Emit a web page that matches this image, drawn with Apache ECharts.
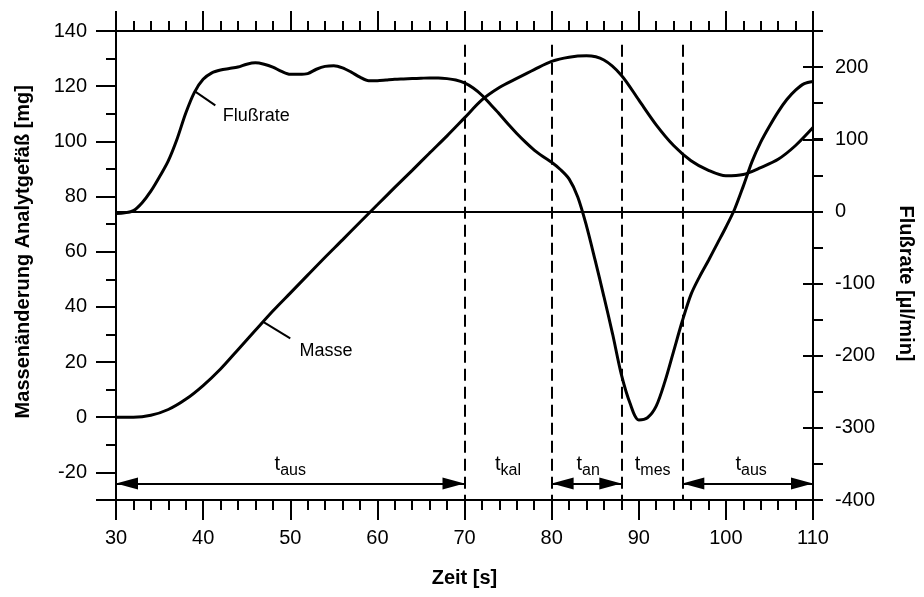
<!DOCTYPE html>
<html>
<head>
<meta charset="utf-8">
<script src="https://cdn.jsdelivr.net/npm/echarts@6/dist/echarts.min.js"></script>
<style>
  html, body { margin: 0; padding: 0; background: #fff; }
  #chart { width: 924px; height: 597px; }
</style>
</head>
<body>
<div id="chart"></div>
<script>
// Masse [mg] over time [s]
const masse = [
  [30, 0], [32, 0], [34, 0.7], [36, 2.8], [38, 6.5], [40, 11.5], [42, 17.5], [44, 24.5],
  [46, 31.5], [48, 38.5], [50, 45], [52, 51.5], [54, 58], [56, 64.3], [58, 70.7], [60, 77],
  [62, 83.3], [64, 89.5], [66, 95.8], [68, 102], [70, 108.5], [72, 115], [74, 119.5],
  [76, 122.8], [78, 126], [80, 129], [82, 130.5], [84, 131], [86, 129.5], [88, 124],
  [90, 115], [92, 106], [94, 98.5], [96, 93], [98, 89.5], [100, 87.5], [102, 88],
  [104, 90.5], [106, 93.5], [108, 98.5], [110, 105]
];
// Flußrate [µl/min] over time [s]
const flussrate = [
  [30, -3], [31, -2], [32, 1], [33, 12], [34, 28], [35, 48], [36, 70], [37, 100], [38, 136],
  [39, 165], [40, 183], [41, 192], [42, 196], [43, 198], [44, 200], [45, 204], [46, 206],
  [47, 204], [48, 200], [49, 194], [50, 190], [51, 190], [52, 191], [53, 197], [54, 201],
  [55, 202], [56, 199], [57, 193], [58, 186], [59, 181], [60, 181], [61, 182], [62, 183],
  [63, 183.5], [64, 184], [65, 184.5], [66, 185], [67, 185], [68, 184], [69, 182], [70, 178],
  [71, 171], [72, 161], [73, 148], [74, 135], [75, 121], [76, 108], [77, 96], [78, 85],
  [79, 76], [80, 68], [81, 58], [82, 45], [83, 20], [84, -20], [85, -68], [86, -118],
  [87, -170], [88, -226], [89, -266], [90, -289], [91, -286], [92, -270], [93, -236],
  [94, -194], [95, -152], [96, -115], [97, -90], [98, -68], [99, -45], [100, -22], [101, 3],
  [102, 35], [103, 69], [104, 96], [105, 118], [106, 138], [107, 155], [108, 168],
  [109, 177], [110, 180]
];
// phase boundaries, arrows and phase labels
const phaseBounds = [70, 80, 88, 95];
const arrowSpans = [[30, 70], [80, 88], [95, 110]];
const arrowLevel = -24;
const phaseNames = ['aus', 'kal', 'an', 'mes', 'aus'];
const phaseNameX = [50, 75, 84.2, 91.6, 102.9];
const phaseNameLevel = -17;

const FONT = 'Liberation Sans, Arial, sans-serif';
const black = '#000';

const chart = echarts.init(document.getElementById('chart'));

const hiddenX = (g) => ({ gridIndex: g, type: 'value', min: 30, max: 110, show: false });

chart.setOption({
  animation: false,
  backgroundColor: '#fff',
  textStyle: { fontFamily: FONT, color: black },
  grid: [
    { left: 116, right: 111, top: 31, bottom: 97 },
    { left: 116, right: 111, top: 31, bottom: 124.6 },
    { left: 116, right: 111, top: 67.1, bottom: 97 }
  ],
  xAxis: [
    {
      gridIndex: 0, type: 'value', position: 'bottom', min: 30, max: 110, interval: 10,
      name: 'Zeit [s]', nameLocation: 'middle', nameGap: 68,
      nameTextStyle: { fontSize: 20, fontWeight: 'bold', color: black, fontFamily: FONT },
      axisLine: { onZero: false, lineStyle: { color: black, width: 2 } },
      axisTick: { length: 20, lineStyle: { color: black, width: 2 } },
      minorTick: { show: true, splitNumber: 5, length: 10, lineStyle: { color: black, width: 2 } },
      axisLabel: { fontSize: 20, color: black, margin: 28, fontFamily: FONT },
      splitLine: { show: false }
    },
    {
      gridIndex: 0, type: 'value', position: 'top', min: 30, max: 110, interval: 10,
      axisLine: { onZero: false, lineStyle: { color: black, width: 2 } },
      axisTick: { length: 20, lineStyle: { color: black, width: 2 } },
      minorTick: { show: true, splitNumber: 5, length: 10, lineStyle: { color: black, width: 2 } },
      axisLabel: { show: false },
      splitLine: { show: false }
    },
    hiddenX(1),
    hiddenX(2)
  ],
  yAxis: [
    {
      gridIndex: 0, type: 'value', position: 'left', min: -30, max: 140, interval: 170,
      axisLine: { show: true, onZero: false, lineStyle: { color: black, width: 2 } },
      axisTick: { length: 20, lineStyle: { color: black, width: 2 } },
      axisLabel: { show: false },
      splitLine: { show: false }
    },
    {
      gridIndex: 0, type: 'value', position: 'right', min: -400, max: 250, interval: 50,
      axisLine: { show: true, onZero: false, lineStyle: { color: black, width: 2 } },
      axisTick: { length: 10, lineStyle: { color: black, width: 2 } },
      axisLabel: { show: false },
      splitLine: { show: false }
    },
    {
      gridIndex: 1, type: 'value', position: 'left', min: -20, max: 140, interval: 20,
      name: 'Massenänderung Analytgefäß [mg]', nameLocation: 'middle', nameGap: 83, nameRotate: 90,
      nameTextStyle: { fontSize: 20, fontWeight: 'bold', color: black, fontFamily: FONT },
      axisLine: { show: false, onZero: false },
      axisTick: { show: true, length: 20, lineStyle: { color: black, width: 2 } },
      minorTick: { show: true, splitNumber: 2, length: 10, lineStyle: { color: black, width: 2 } },
      axisLabel: { fontSize: 20, color: black, margin: 29, fontFamily: FONT },
      splitLine: { show: false }
    },
    {
      gridIndex: 2, type: 'value', position: 'right', min: -400, max: 200, interval: 100,
      name: 'Flußrate [µl/min]', nameLocation: 'middle', nameGap: 93, nameRotate: -90,
      nameTextStyle: { fontSize: 20, fontWeight: 'bold', color: black, fontFamily: FONT },
      axisLine: { show: false, onZero: false },
      axisTick: { show: true, length: 20, lineStyle: { color: black, width: 2 } },
      axisLabel: { fontSize: 20, color: black, margin: 32, fontFamily: FONT },
      splitLine: { show: false }
    }
  ],
  series: [
    {
      name: 'Masse', type: 'line', xAxisIndex: 0, yAxisIndex: 0,
      data: masse, smooth: 0.3, showSymbol: false, symbol: 'none',
      lineStyle: { color: black, width: 3 },
      markLine: {
        silent: true, symbol: 'none', label: { show: false },
        data: phaseBounds.map(x => [
          { coord: [x, 135], lineStyle: { color: black, width: 2, type: [12, 6] } },
          { coord: [x, -30] }
        ]).concat([[
          { coord: [46.9, 34.6], lineStyle: { color: black, width: 2, type: 'solid' } },
          { coord: [50, 28.6] }
        ]])
      },
      markPoint: {
        silent: true, symbol: 'circle', symbolSize: 1, itemStyle: { color: 'transparent' },
        label: { show: true, position: 'inside', color: black, fontSize: 18, fontFamily: FONT, formatter: '{b}' },
        data: [{ name: 'Masse', coord: [54.1, 24.1] }]
      }
    },
    {
      name: 'Flußrate', type: 'line', xAxisIndex: 0, yAxisIndex: 1,
      data: flussrate, smooth: 0.3, showSymbol: false, symbol: 'none',
      lineStyle: { color: black, width: 3 },
      markLine: {
        silent: true, symbol: 'none', label: { show: false },
        data: [
          { yAxis: 0, lineStyle: { color: black, width: 2, type: 'solid' } },
          [
            { coord: [39.1, 166], lineStyle: { color: black, width: 2, type: 'solid' } },
            { coord: [41.4, 147] }
          ]
        ]
      },
      markPoint: {
        silent: true, symbol: 'circle', symbolSize: 1, itemStyle: { color: 'transparent' },
        label: { show: true, position: 'inside', color: black, fontSize: 18, fontFamily: FONT, formatter: '{b}' },
        data: [{ name: 'Flußrate', coord: [46.1, 132] }]
      }
    },
    {
      name: 'Phasen', type: 'line', xAxisIndex: 0, yAxisIndex: 0, data: [],
      markLine: {
        silent: true, symbol: ['triangle', 'triangle'], symbolSize: [12, 22],
        symbolOffset: [[0, 11], [0, 11]],
        label: { show: false },
        lineStyle: { color: black, width: 2, type: 'solid' },
        itemStyle: { color: black },
        data: arrowSpans.map(s => [{ coord: [s[0], arrowLevel] }, { coord: [s[1], arrowLevel] }])
      },
      markPoint: {
        silent: true, symbol: 'circle', symbolSize: 1, itemStyle: { color: 'transparent' },
        label: {
          show: true, position: 'inside', color: black,
          formatter: p => '{t|t}{s|' + p.name + '}',
          rich: {
            t: { fontSize: 20, lineHeight: 20, verticalAlign: 'top', fontFamily: FONT, color: black },
            s: { fontSize: 16, lineHeight: 16, verticalAlign: 'top', padding: [8, 0, 0, 0], fontFamily: FONT, color: black }
          }
        },
        data: phaseNames.map((n, i) => ({ name: n, coord: [phaseNameX[i], phaseNameLevel] }))
      }
    }
  ]
});

window.addEventListener('resize', () => chart.resize());
</script>
</body>
</html>
